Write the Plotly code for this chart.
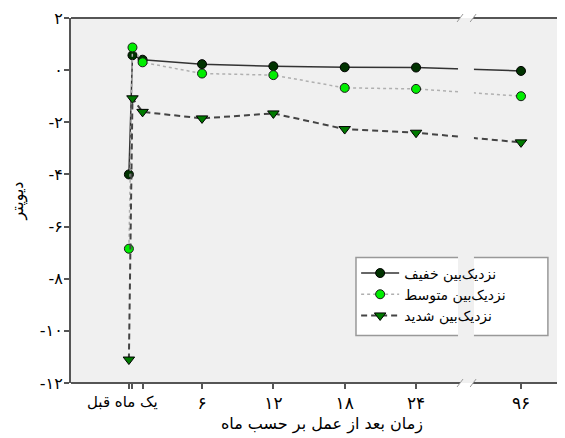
import plotly.graph_objects as go

# ---- data ----
time_months = [-0.15, 0.15, 1, 6, 12, 18, 24, 96]
time_labels = ["قبل", "یک ماه", "", "۶", "۱۲", "۱۸", "۲۴", "۹۶"]
series_names = ["نزدیک‌بین خفیف", "نزدیک‌بین متوسط", "نزدیک‌بین شدید"]
mild = [-4.0, 0.57, 0.4, 0.23, 0.15, 0.11, 0.10, -0.03]
moderate = [-6.85, 0.87, 0.30, -0.13, -0.19, -0.68, -0.72, -1.00]
severe = [-11.1, -1.08, -1.60, -1.85, -1.66, -2.26, -2.40, -2.77]
y_ticks = [2, 0, -2, -4, -6, -8, -10, -12]
y_tick_labels = ["۲", "۰", "-۲", "-۴", "-۶", "-۸", "-۱۰", "-۱۲"]
x_title = "زمان بعد از عمل بر حسب ماه"
y_title = "دیوپتر"

# ---- broken x scale (compressed after 24 months) ----
BREAK_AT = 24
COMPRESS = 0.1226


def to_display(m):
    return m if m <= BREAK_AT else BREAK_AT + (m - BREAK_AT) * COMPRESS


xd = [to_display(m) for m in time_months]

AX = "#555555"
BG = "#f0f0f0"
FONT = "DejaVu Sans"

fig = go.Figure()
fig.add_trace(go.Scatter(
    x=xd, y=mild, name=series_names[0], mode="lines+markers",
    line=dict(color="#333333", width=1.5),
    marker=dict(symbol="circle", size=9, color="#003300", line=dict(color="#000000", width=1)),
))
fig.add_trace(go.Scatter(
    x=xd, y=moderate, name=series_names[1], mode="lines+markers",
    line=dict(color="#b0b0b0", width=1.5, dash="dot"),
    marker=dict(symbol="circle", size=9, color="#00ee00", line=dict(color="#1a1a1a", width=1)),
))
fig.add_trace(go.Scatter(
    x=xd, y=severe, name=series_names[2], mode="lines+markers",
    line=dict(color="#444444", width=2, dash="6px,4px"),
    marker=dict(symbol="triangle-down", size=10, color="#007a00", line=dict(color="#000000", width=1)),
))

PX_PER_MONTH = 11.89
ML, MT, MB = 63, 10, 63
W, H = 565, 438
x_lo = -5.02
x_hi = x_lo + (W - ML) / PX_PER_MONTH
gap_l, gap_r = 27.7, 28.8        # axis-line break
cut_l, cut_r = 27.53, 28.87      # data-line break

shapes = [
    # legend frame
    dict(type="rect", xref="paper", yref="paper", x0=0.5677, x1=0.950, y0=0.130, y1=0.344,
         fillcolor="white", line=dict(color="#999999", width=1.5), layer="below"),
    dict(type="rect", xref="x", yref="paper", x0=cut_l, x1=cut_r, y0=0.004, y1=0.996,
         fillcolor=BG, line=dict(width=0), layer="above"),
]
for yp in (0, 1):
    shapes.append(dict(type="line", xref="x", yref="paper", x0=x_lo, x1=gap_l, y0=yp, y1=yp,
                       line=dict(color=AX, width=2), layer="above"))
    shapes.append(dict(type="line", xref="x", yref="paper", x0=gap_r, x1=x_hi + 1, y0=yp, y1=yp,
                       line=dict(color=AX, width=2), layer="above"))
    for xa in (gap_l, gap_r):
        shapes.append(dict(type="line", xref="x", yref="paper", xsizemode="pixel", ysizemode="pixel",
                           xanchor=xa, yanchor=yp, x0=-3, x1=3, y0=-4, y1=4,
                           line=dict(color="#9a9a9a", width=1), layer="above"))

fig.update_layout(
    width=W, height=H,
    margin=dict(l=ML, r=0, t=MT, b=MB, autoexpand=False),
    paper_bgcolor="white", plot_bgcolor=BG,
    font=dict(family=FONT, size=13, color="#000000"),
    showlegend=True,
    legend=dict(x=0.568, y=0.344, xanchor="left", yanchor="top",
                bgcolor="rgba(0,0,0,0)", borderwidth=0,
                font=dict(size=14), itemwidth=38, tracegroupgap=0),
    shapes=shapes,
    annotations=[dict(text=time_labels[1] + " " + time_labels[0], xref="x", yref="paper",
                      x=-0.73, y=0, yshift=-19, showarrow=False, xanchor="center", yanchor="middle",
                      font=dict(size=15))],
)
fig.update_xaxes(
    range=[x_lo, x_hi], showline=False, showgrid=False, zeroline=False, automargin=False,
    tickmode="array", tickvals=xd, ticktext=[t if i > 2 else "" for i, t in enumerate(time_labels)],
    ticks="outside", ticklen=5, tickwidth=1.5, tickcolor=AX, ticklabeloverflow="allow",
    tickfont=dict(size=17),
    title=dict(text=x_title, font=dict(size=16), standoff=5),
)
fig.update_yaxes(
    range=[-12, 2], showline=True, linecolor=AX, linewidth=2, showgrid=False, zeroline=False,
    automargin=False,
    tickmode="array", tickvals=y_ticks, ticktext=y_tick_labels,
    ticks="outside", ticklen=5, tickwidth=1.5, tickcolor=AX, ticklabelstandoff=-2,
    ticklabeloverflow="allow",
    tickfont=dict(size=16),
    title=dict(text=y_title, font=dict(size=16), standoff=20),
)

fig.write_html("out.html")
